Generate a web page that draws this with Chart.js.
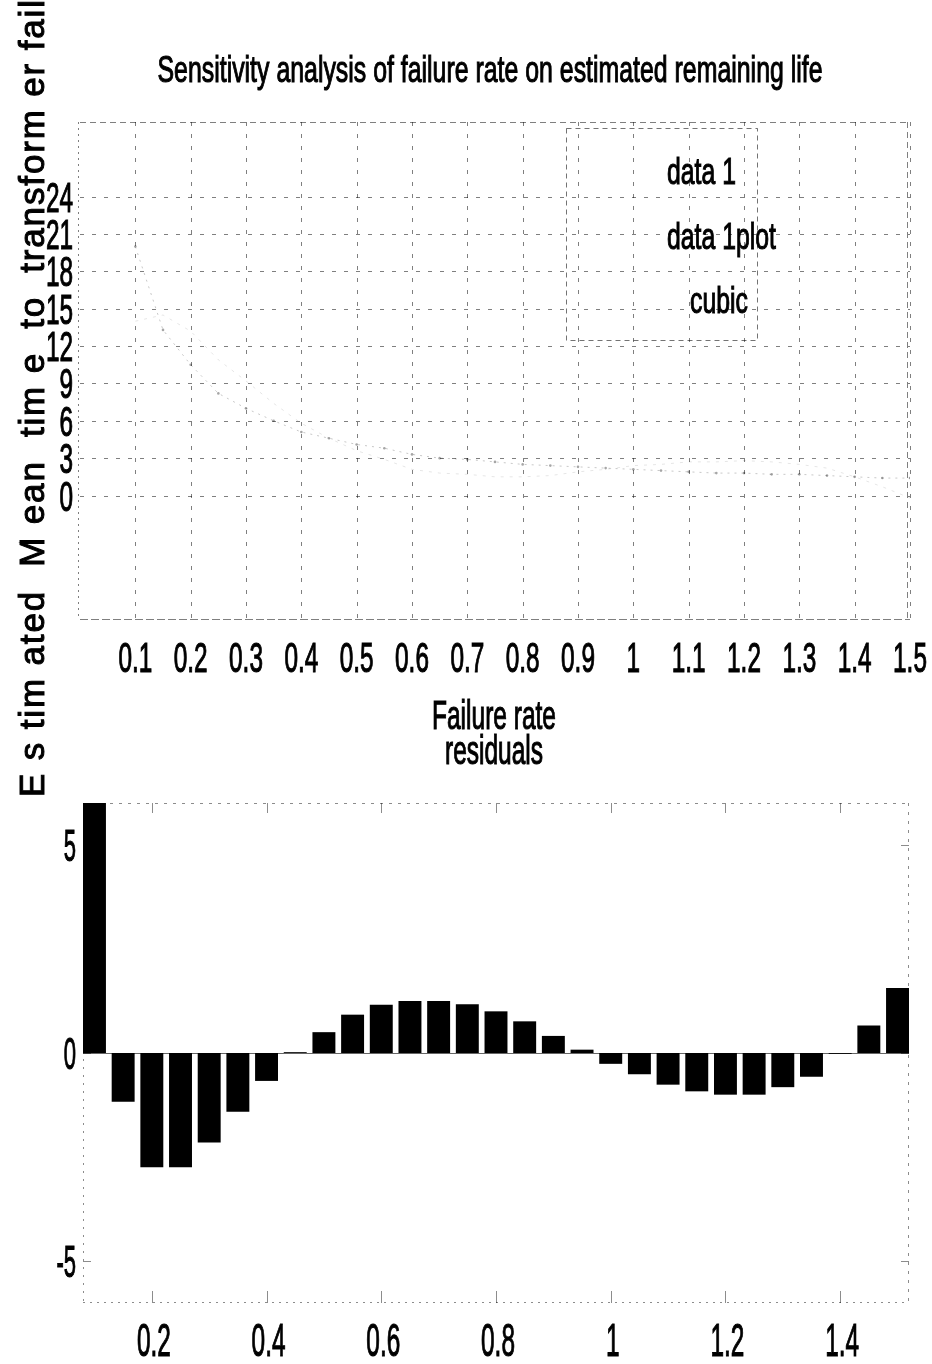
<!DOCTYPE html>
<html>
<head>
<meta charset="utf-8">
<script src="https://cdn.jsdelivr.net/npm/chart.js@4.4.1/dist/chart.umd.min.js"></script>
<style>
  html, body { margin: 0; padding: 0; background: #fff; }
  #wrap { position: relative; width: 932px; height: 1364px; overflow: hidden; }
  canvas { position: absolute; left: 0; }
</style>
</head>
<body>
<div id="wrap">
  <canvas id="topChart" width="932" height="800" style="top:0"></canvas>
  <canvas id="resChart" width="932" height="584" style="top:780px"></canvas>
</div>
<script>
// failure rate sampled every 0.05
const failureRate = [0.1, 0.15, 0.2, 0.25, 0.3, 0.35, 0.4, 0.45, 0.5, 0.55, 0.6, 0.65, 0.7, 0.75, 0.8,
                     0.85, 0.9, 0.95, 1.0, 1.05, 1.1, 1.15, 1.2, 1.25, 1.3, 1.35, 1.4, 1.45, 1.5];
// estimated mean time (faint points in the scan)
const data1 = [20, 13.3, 10.5, 8.2, 7.0, 6.0, 5.1, 4.6, 4.1, 3.8, 3.3, 3.0, 2.9, 2.7, 2.5,
               2.4, 2.3, 2.2, 2.1, 2.0, 1.9, 1.8, 1.8, 1.7, 1.7, 1.6, 1.5, 1.4, 1.4];
const cubicFit = [14.0, 14.5, 13.2, 10.9, 9.2, 7.4, 5.8, 4.6, 3.6, 2.9, 2.1, 1.8, 1.7, 1.5, 1.5,
                  1.6, 1.9, 2.1, 2.4, 2.5, 2.7, 2.7, 2.8, 2.7, 2.5, 2.2, 1.5, 0.7, -0.2];
const residuals = [6.0, -1.17, -2.74, -2.74, -2.15, -1.41, -0.67, 0.02, 0.50, 0.92, 1.16, 1.25, 1.25, 1.17, 1.0,
                   0.76, 0.41, 0.08, -0.26, -0.51, -0.76, -0.92, -1.0, -1.0, -0.82, -0.57, -0.02, 0.66, 1.56];

const topXTicks = [0.1, 0.2, 0.3, 0.4, 0.5, 0.6, 0.7, 0.8, 0.9, 1, 1.1, 1.2, 1.3, 1.4, 1.5];
const topYTicks = [0, 3, 6, 9, 12, 15, 18, 21, 24];
const resXTicks = [0.2, 0.4, 0.6, 0.8, 1, 1.2, 1.4];
const resYTicks = [-5, 0, 5];
const legendLabels = ['data 1', 'data 1plot', 'cubic'];

const FONT = '"Liberation Sans", Arial, sans-serif';

function txt(ctx, s, x, y, size, sx, align) {
    ctx.save();
    ctx.font = size + 'px ' + FONT;
    ctx.textAlign = align || 'center';
    ctx.textBaseline = 'alphabetic';
    ctx.fillStyle = '#000';
    ctx.strokeStyle = '#000';
    ctx.lineWidth = 1.1;
    ctx.translate(x, y);
    ctx.scale(sx, 1);
    ctx.fillText(s, 0, 0);
    ctx.strokeText(s, 0, 0); // scanned text is heavier
    ctx.restore();
}

// squeeze text to a given width (the scan uses a narrow font)
function fitTxt(ctx, s, x, y, size, w, align) {
    ctx.save();
    ctx.font = size + 'px ' + FONT;
    const sx = w / ctx.measureText(s).width;
    ctx.restore();
    txt(ctx, s, x, y, size, sx, align);
}

function dashLine(ctx, x1, y1, x2, y2, dash, color) {
    ctx.save();
    ctx.strokeStyle = color;
    ctx.lineWidth = 1;
    ctx.setLineDash(dash);
    ctx.beginPath();
    ctx.moveTo(x1, y1);
    ctx.lineTo(x2, y2);
    ctx.stroke();
    ctx.restore();
}

const fmt = v => String(v);

// grid, box, ticks and texts of the upper plot
const topDecor = {
    id: 'topDecor',
    beforeDatasetsDraw(chart) {
        const { ctx, chartArea: a, scales: { x, y } } = chart;
        const g = 'rgba(0,0,0,0.5)';
        topXTicks.forEach(v => {
            const px = Math.round(x.getPixelForValue(v)) + 0.5;
            dashLine(ctx, px, a.top, px, a.bottom, [4, 8], g);
        });
        topYTicks.forEach(v => {
            const py = Math.round(y.getPixelForValue(v)) + 0.5;
            dashLine(ctx, a.left, py, a.right, py, [4, 8], g);
        });
        dashLine(ctx, a.left, a.top + 0.5, a.right, a.top + 0.5, [6, 4], g);
        dashLine(ctx, a.left, a.bottom - 0.5, a.right, a.bottom - 0.5, [8, 3], g);
        dashLine(ctx, a.left - 1.5, a.top, a.left - 1.5, a.bottom, [2, 4], g);
        dashLine(ctx, a.right - 2.5, a.top, a.right - 2.5, a.bottom, [6, 4], g);
    },
    afterDraw(chart) {
        const { ctx, scales: { x, y } } = chart;
        topXTicks.forEach(v => txt(ctx, fmt(v), x.getPixelForValue(v), 672, 42, 0.58, 'center'));
        topYTicks.forEach(v => txt(ctx, fmt(v), 73, y.getPixelForValue(v) + 15, 42, 0.58, 'right'));

        fitTxt(ctx, 'Sensitivity analysis of failure rate on estimated remaining life', 490, 82, 37, 665, 'center');
        fitTxt(ctx, 'Failure rate', 494, 729, 40, 124, 'center');
        fitTxt(ctx, 'residuals', 494, 764, 40, 98, 'center');

        // legend box
        ctx.save();
        ctx.strokeStyle = 'rgba(0,0,0,0.55)';
        ctx.setLineDash([5, 4]);
        ctx.strokeRect(566.5, 128.5, 191, 212);
        ctx.restore();
        txt(ctx, legendLabels[0], 667, 184, 37, 0.67, 'left');
        txt(ctx, legendLabels[1], 667, 249, 37, 0.67, 'left');
        txt(ctx, legendLabels[2], 690, 313, 37, 0.67, 'left');

        // rotated y label, letter spaced like the scan
        const label = 'E s tim ated  M ean  tim e  to  transform er fail';
        ctx.save();
        ctx.font = '35px ' + FONT;
        ctx.fillStyle = '#000';
        ctx.strokeStyle = '#000';
        ctx.lineWidth = 1;
        ctx.textBaseline = 'alphabetic';
        ctx.translate(44, 797);
        ctx.rotate(-Math.PI / 2);
        const chars = label.split('');
        const total = chars.reduce((s, c) => s + ctx.measureText(c).width, 0);
        const gap = (797 - total) / (chars.length - 1);
        let pos = 0;
        chars.forEach(c => {
            ctx.fillText(c, pos, 0);
            ctx.strokeText(c, pos, 0);
            pos += ctx.measureText(c).width + gap;
        });
        ctx.restore();
    }
};

new Chart(document.getElementById('topChart'), {
    type: 'scatter',
    data: {
        datasets: [
            {
                label: legendLabels[0],
                data: failureRate.map((v, i) => ({ x: v, y: data1[i] })),
                showLine: false,
                pointRadius: 1.3,
                pointBackgroundColor: 'rgba(0,0,0,0.35)',
                pointBorderWidth: 0
            },
            {
                label: legendLabels[1],
                data: failureRate.map((v, i) => ({ x: v, y: data1[i] })),
                showLine: true,
                borderColor: 'rgba(0,0,0,0.22)',
                borderWidth: 1,
                borderDash: [2, 5],
                pointRadius: 0
            },
            {
                label: legendLabels[2],
                data: failureRate.map((v, i) => ({ x: v, y: cubicFit[i] })),
                showLine: true,
                borderColor: 'rgba(0,0,0,0.10)',
                borderWidth: 1,
                borderDash: [3, 6],
                pointRadius: 0
            }
        ]
    },
    options: {
        responsive: false,
        animation: false,
        layout: { padding: { top: 122, right: 22, left: 0, bottom: 0 } },
        plugins: { legend: { display: false }, tooltip: { enabled: false }, title: { display: false } },
        scales: {
            x: {
                type: 'linear', min: 0, max: 1.5,
                grid: { display: false }, border: { display: false },
                ticks: { display: false },
                afterFit: s => { s.height = 180; }
            },
            y: {
                type: 'linear', min: -10, max: 30,
                grid: { display: false }, border: { display: false },
                ticks: { display: false },
                afterFit: s => { s.width = 80; }
            }
        }
    },
    plugins: [topDecor]
});

// box, ticks and labels of the residual plot
const resDecor = {
    id: 'resDecor',
    beforeDatasetsDraw(chart) {
        const { ctx, chartArea: a, scales: { x, y } } = chart;
        const g = 'rgba(0,0,0,0.45)';
        dashLine(ctx, a.left, a.top + 0.5, a.right, a.top + 0.5, [3, 6], g);
        dashLine(ctx, a.left, a.bottom - 0.5, a.right, a.bottom - 0.5, [2, 5], g);
        dashLine(ctx, a.left + 0.5, a.top, a.left + 0.5, a.bottom, [2, 6], g);
        dashLine(ctx, a.right - 0.5, a.top, a.right - 0.5, a.bottom, [3, 6], g);
        resXTicks.forEach(v => {
            const px = Math.round(x.getPixelForValue(v)) + 0.5;
            dashLine(ctx, px, a.top, px, a.top + 10, [], g);
            dashLine(ctx, px, a.bottom, px, a.bottom - 12, [], g);
        });
        resYTicks.forEach(v => {
            const py = Math.round(y.getPixelForValue(v)) + 0.5;
            dashLine(ctx, a.left, py, a.left + 8, py, [], g);
            dashLine(ctx, a.right, py, a.right - 8, py, [], g);
        });
        // bar baseline
        const z = Math.round(y.getPixelForValue(0)) + 0.5;
        dashLine(ctx, a.left, z, a.right, z, [], 'rgba(0,0,0,0.6)');
    },
    afterDraw(chart) {
        const { ctx, scales: { x, y } } = chart;
        resXTicks.forEach(v => txt(ctx, fmt(v), x.getPixelForValue(v) + 2, 576, 46, 0.53, 'center'));
        resYTicks.forEach(v => txt(ctx, fmt(v), 76, y.getPixelForValue(v) + 16, 44, 0.5, 'right'));
    }
};

new Chart(document.getElementById('resChart'), {
    type: 'bar',
    data: {
        datasets: [{
            label: 'residuals',
            data: failureRate.map((v, i) => ({ x: v, y: residuals[i] })),
            backgroundColor: '#000',
            borderWidth: 0,
            barPercentage: 0.8,
            categoryPercentage: 1.0
        }]
    },
    options: {
        responsive: false,
        animation: false,
        layout: { padding: { top: 23, right: 23, left: 0, bottom: 0 } },
        plugins: { legend: { display: false }, tooltip: { enabled: false } },
        scales: {
            x: {
                type: 'linear', min: 0.08, max: 1.52, offset: false,
                grid: { display: false }, border: { display: false },
                ticks: { display: false },
                afterFit: s => { s.height = 61; }
            },
            y: {
                min: -6, max: 6,
                grid: { display: false }, border: { display: false },
                ticks: { display: false },
                afterFit: s => { s.width = 83; }
            }
        }
    },
    plugins: [resDecor]
});
</script>
</body>
</html>
